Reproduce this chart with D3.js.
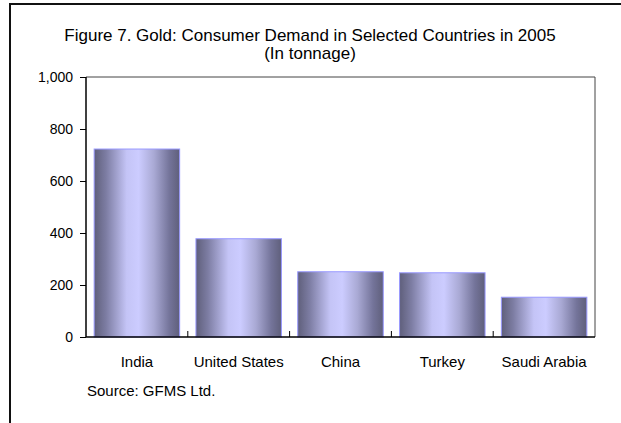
<!DOCTYPE html>
<html>
<head>
<meta charset="utf-8">
<script src="https://cdn.jsdelivr.net/npm/d3@7"></script>
<style>
  html, body { margin: 0; padding: 0; background: #fff; }
  svg { display: block; }
  text { font-family: Arial, "Liberation Sans", sans-serif; fill: #000; }
</style>
</head>
<body>
<svg></svg>
<script>
// chart data
const countries = ["India", "United States", "China", "Turkey", "Saudi Arabia"];
const tonnage = [723, 378, 251, 247, 153];
const yTicks = [0, 200, 400, 600, 800, 1000];
const titleLines = ["Figure 7. Gold: Consumer Demand in Selected Countries in 2005", "(In tonnage)"];
const sourceNote = "Source: GFMS Ltd.";

(function (d3) {
    const width = 621;
    const height = 423;

    const svg = d3.select('svg');
    svg.attr('width', width).attr('height', height);

    const plot = {left: 86, right: 595, top: 77, bottom: 337};

    // gradient for the cylinder look of the bars
    const grad = svg.append("defs").append("linearGradient")
          .attr("id", "barfill")
          .attr("x1", 0).attr("x2", 1).attr("y1", 0).attr("y2", 0);
    [[0, "#5f5f7b"], [0.14, "#7d7da3"], [0.38, "#c4c4f6"], [0.52, "#ccccff"],
     [0.7, "#a9a9d4"], [0.88, "#74749a"], [1, "#5f5f7b"]].forEach(function (s) {
        grad.append("stop").attr("offset", s[0]).attr("stop-color", s[1]);
    });

    // outer frame (runs off the right and bottom of the picture)
    svg.append("rect")
        .attr("x", 10).attr("y", 4)
        .attr("width", width + 20).attr("height", height + 20)
        .attr("fill", "none")
        .attr("stroke", "#111")
        .attr("stroke-width", 2);

    svg.append("g").selectAll("text")
        .data(titleLines)
        .enter().append("text")
        .attr("x", 310)
        .attr("y", (d, i) => 41 + i * 18)
        .attr("text-anchor", "middle")
        .style("font-size", "17px")
        .text(d => d);

    const y = d3.scaleLinear()
          .domain([0, 1000])
          .range([plot.bottom, plot.top]);

    const x = d3.scaleBand()
          .domain(countries)
          .range([plot.left, plot.right])
          .paddingInner(0.16)
          .paddingOuter(0.08);

    // top and right edges of the plot area
    svg.append("path")
        .attr("d", `M${plot.left},${plot.top}H${plot.right}V${plot.bottom}`)
        .attr("fill", "none")
        .attr("stroke", "#444")
        .attr("stroke-width", 1);

    svg.append("g").selectAll("rect")
        .data(tonnage)
        .enter().append("rect")
        .attr("x", (d, i) => x(countries[i]))
        .attr("y", d => y(d))
        .attr("width", x.bandwidth())
        .attr("height", d => y(0) - y(d))
        .attr("fill", "url(#barfill)")
        .attr("stroke", "#9999ff")
        .attr("stroke-width", 1);

    // y axis
    const yAxis = svg.append("g")
          .attr("transform", `translate(${plot.left},0)`)
          .call(d3.axisLeft(y).tickValues(yTicks).tickSize(6).tickPadding(7)
                .tickFormat(d3.format(",")));
    yAxis.select(".domain").attr("stroke", "#000").attr("stroke-width", 1.5)
        .attr("d", `M0,${plot.top}V${plot.bottom}`);
    yAxis.selectAll("line").attr("stroke", "#000");
    yAxis.selectAll("text")
        .style("font-size", "14px")
        .style("font-family", "Arial, 'Liberation Sans', sans-serif");

    // x axis: baseline, ticks between categories pointing up
    const step = x.step();
    const xAxis = svg.append("g");
    xAxis.append("line")
        .attr("x1", plot.left).attr("x2", plot.right)
        .attr("y1", plot.bottom).attr("y2", plot.bottom)
        .attr("stroke", "#000").attr("stroke-width", 1.5);
    xAxis.selectAll(".sep")
        .data(countries.slice(1))
        .enter().append("line")
        .attr("class", "sep")
        .attr("x1", d => x(d) - step * 0.08)
        .attr("x2", d => x(d) - step * 0.08)
        .attr("y1", plot.bottom)
        .attr("y2", plot.bottom - 6)
        .attr("stroke", "#000");
    xAxis.selectAll("text")
        .data(countries)
        .enter().append("text")
        .attr("x", d => x(d) + x.bandwidth() / 2)
        .attr("y", 367)
        .attr("text-anchor", "middle")
        .style("font-size", "15px")
        .text(d => d);

    svg.append("text")
        .attr("x", 87)
        .attr("y", 396)
        .style("font-size", "15px")
        .text(sourceNote);
})(d3);
</script>
</body>
</html>
